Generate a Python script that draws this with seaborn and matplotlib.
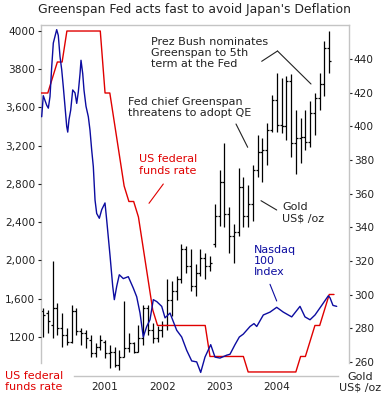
"""Greenspan Fed chart: gold (monthly OHLC), Nasdaq 100 and the fed funds rate."""
import matplotlib
matplotlib.use("Agg")
import matplotlib.pyplot as plt
import pandas as pd
import seaborn as sns

W, H = 387, 398

# gold, monthly bars from Dec 1999 to Dec 2004 (US$ /oz)
gold_start = 1999 + 11 / 12
gold_open = [290, 289, 282, 292, 280, 276, 272, 290, 278, 277,
             273, 265, 269, 272, 265, 266, 258, 263, 268, 271,
             266, 274, 292, 279, 274, 279, 282, 297, 302, 309,
             327, 317, 305, 313, 322, 317, 330, 347, 367, 348,
             335, 337, 364, 347, 354, 374, 385, 386, 398, 416,
             401, 400, 427, 390, 393, 394, 391, 408, 417, 425, 447]
gold_high = [292, 291, 320, 295, 289, 280, 294, 292, 280, 279,
             276, 271, 276, 273, 270, 269, 267, 296, 277, 272,
             282, 294, 294, 283, 281, 284, 309, 308, 311, 330,
             329, 327, 318, 327, 325, 323, 354, 374, 390, 352,
             342, 375, 370, 365, 377, 395, 393, 402, 419, 432,
             429, 430, 431, 410, 405, 410, 415, 420, 432, 451, 457]
gold_low = [275, 277, 274, 276, 269, 270, 271, 276, 270, 268,
            263, 263, 267, 262, 256, 257, 255, 263, 266, 265,
            266, 270, 276, 271, 272, 275, 279, 287, 297, 307,
            313, 302, 299, 311, 309, 314, 328, 341, 340, 325,
            319, 335, 340, 340, 344, 370, 367, 377, 397, 397,
            396, 392, 382, 372, 378, 386, 388, 395, 410, 418, 432]
gold_close = [288, 284, 292, 280, 276, 272, 290, 278, 277, 274,
              265, 269, 273, 265, 266, 258, 263, 268, 271, 266,
              274, 292, 279, 274, 279, 282, 297, 302, 309, 327,
              317, 305, 313, 322, 317, 319, 347, 367, 348, 335,
              337, 364, 347, 354, 374, 385, 386, 398, 416, 401,
              400, 427, 390, 393, 394, 391, 408, 417, 425, 447, 439]

# Nasdaq 100 index (time in years)
nasdaq_t = [1999.893, 1999.921, 1999.981, 2000.009, 2000.038, 2000.068, 2000.096, 2000.155, 2000.183, 2000.213,
            2000.243, 2000.271, 2000.300, 2000.330, 2000.348, 2000.370, 2000.400, 2000.435, 2000.475, 2000.505,
            2000.533, 2000.563, 2000.580, 2000.610, 2000.632, 2000.667, 2000.708, 2000.737, 2000.767, 2000.795,
            2000.825, 2000.854, 2000.900, 2000.942, 2000.999, 2001.029, 2001.087, 2001.134, 2001.162, 2001.204,
            2001.249, 2001.319, 2001.406, 2001.494, 2001.553, 2001.611, 2001.668, 2001.728, 2001.785, 2001.843,
            2001.903, 2001.990, 2002.048, 2002.135, 2002.193, 2002.252, 2002.339, 2002.427, 2002.514, 2002.601,
            2002.671, 2002.746, 2002.846, 2002.921, 2003.008, 2003.125, 2003.183, 2003.270, 2003.346, 2003.415,
            2003.533, 2003.602, 2003.650, 2003.765, 2003.882, 2003.999, 2004.114, 2004.261, 2004.406, 2004.493,
            2004.581, 2004.668, 2004.785, 2004.900, 2004.930, 2004.982, 2005.047]
nasdaq_v = [3500, 3720, 3620, 3590, 3710, 4020, 4270, 4410, 4350, 4130,
            3990, 3810, 3610, 3400, 3340, 3470, 3570, 3780, 3750, 3640,
            3760, 3950, 4090, 3950, 3780, 3610, 3500, 3360, 3150, 2980,
            2630, 2490, 2440, 2530, 2600, 2420, 2050, 1730, 1590, 1730,
            1850, 1810, 1830, 1710, 1620, 1450, 1200, 1310, 1380, 1590,
            1570, 1520, 1400, 1450, 1360, 1270, 1200, 1060, 950, 940,
            830, 990, 1120, 990, 980, 1010, 1020, 1120, 1200, 1230,
            1310, 1340, 1310, 1430, 1460, 1510, 1460, 1410, 1520, 1410,
            1380, 1430, 1530, 1630, 1610, 1530, 1520]

# US federal funds rate (%), month starts from Nov 1999 to Jan 2005
fed_start = 1999 + 10 / 12
fed_rate = [5.5, 5.5,
            5.5, 5.75, 6.0, 6.0, 6.5, 6.5, 6.5, 6.5, 6.5, 6.5, 6.5, 6.5,
            5.5, 5.5, 5.0, 4.5, 4.0, 3.75, 3.75, 3.5, 3.0, 2.5, 2.0, 1.75,
            1.75, 1.75, 1.75, 1.75, 1.75, 1.75, 1.75, 1.75, 1.75, 1.75, 1.25, 1.25,
            1.25, 1.25, 1.25, 1.25, 1.25, 1.25, 1.0, 1.0, 1.0, 1.0, 1.0, 1.0,
            1.0, 1.0, 1.0, 1.0, 1.0, 1.25, 1.25, 1.5, 1.75, 1.75, 2.0, 2.25,
            2.25]

year_ticks = [2001, 2002, 2003, 2004]
year_labels = ["2001", "2002", "2003", "2004"]
nq_ticks = [1200, 1600, 2000, 2400, 2800, 3200, 3600, 4000, 4400]
nq_labels = ["1200", "1,600", "2,000", "2,400", "2,800", "3,200", "3,600", "3800", "4000"]
gold_ticks = [260, 280, 300, 320, 340, 360, 380, 400, 420, 440]

RED = "#e00000"
BLUE = "#0c0ca0"
INK = "#222222"
FRAME = "#c4c4c4"

sns.set_style("white")
plt.rcParams["font.family"] = ["DejaVu Sans"]


def fx(x):
    return x / W


def fy(y):
    return 1 - y / H


def pointer(x0, y0, x1, y1, color=INK):
    fig.add_artist(plt.Line2D([fx(x0), fx(x1)], [fy(y0), fy(y1)],
                              transform=fig.transFigure, color=color, lw=0.8))


fig = plt.figure(figsize=(W / 100, H / 100), dpi=100)
ax_gold = fig.add_axes([fx(41), fy(376), 308 / W, 351 / H])
ax_fed = ax_gold.twinx()
ax_nq = ax_gold.twinx()

# gold OHLC bars
n = len(gold_open)
gold = pd.DataFrame({
    "t": [gold_start + i / 12 for i in range(n)],
    "open": gold_open, "high": gold_high, "low": gold_low, "close": gold_close,
})
tick = 0.035
ax_gold.vlines(gold["t"], gold["low"], gold["high"], color="black", lw=0.9)
ax_gold.hlines(gold["open"], gold["t"] - tick, gold["t"], color="black", lw=0.9)
ax_gold.hlines(gold["close"], gold["t"], gold["t"] + tick, color="black", lw=0.9)

fed = pd.DataFrame({"t": [fed_start + i / 12 for i in range(len(fed_rate))], "rate": fed_rate})
sns.lineplot(data=fed, x="t", y="rate", ax=ax_fed, color=RED, lw=1.0)

nq = pd.DataFrame({"t": nasdaq_t, "v": nasdaq_v})
sns.lineplot(data=nq, x="t", y="v", ax=ax_nq, color=BLUE, lw=1.0)

x_left, x_right = 1999.881, 2005.262
for a in (ax_gold, ax_fed, ax_nq):
    a.set_xlim(x_left, x_right)
    a.set_xlabel("")
    a.set_ylabel("")
    for s in a.spines.values():
        s.set_visible(False)

ax_gold.set_ylim(251.5, 460.4)
ax_fed.set_ylim(0.935, 6.597)
ax_nq.set_ylim(792.7, 4458.5)

# frame: top, left and right stop short of the bottom; the time axis is shorter
for side in ("top", "left", "right", "bottom"):
    sp = ax_gold.spines[side]
    sp.set_visible(True)
    sp.set_color(FRAME)
    sp.set_linewidth(1.0)
ax_gold.spines["left"].set_bounds(259.2, 460.4)
ax_gold.spines["right"].set_bounds(259.2, 460.4)
ax_gold.spines["bottom"].set_bounds(2000.458, 2005.07)

ax_fed.set_yticks([])
ax_fed.tick_params(axis="both", length=0, labelleft=False, labelright=False)

ax_gold.set_xticks(year_ticks)
ax_gold.set_xticklabels(year_labels)
ax_gold.tick_params(axis="x", length=0, pad=4, labelsize=7.6, labelcolor=INK)
ax_gold.yaxis.tick_right()
ax_gold.set_yticks(gold_ticks)
ax_gold.tick_params(axis="y", right=True, left=False, labelright=True, labelleft=False,
                    direction="out", length=2.5, width=0.8, pad=1, labelsize=7.6,
                    color=INK, labelcolor=INK)

ax_nq.yaxis.tick_left()
ax_nq.set_yticks(nq_ticks)
ax_nq.set_yticklabels(nq_labels)
ax_nq.tick_params(axis="y", left=True, right=False, labelleft=True, labelright=False,
                  direction="out", length=2.5, width=0.8, pad=1.5, labelsize=7.6,
                  color=INK, labelcolor=INK)

fig.text(fx(194), fy(10), "Greenspan Fed acts fast to avoid Japan's Deflation",
         ha="center", va="center", fontsize=8.9, color=INK)

txt = dict(fontsize=8, va="center", linespacing=1.15)
fig.text(fx(151), fy(53.2), "Prez Bush nominates\nGreenspan to 5th\nterm at the Fed", color=INK, **txt)
fig.text(fx(128.3), fy(107.7), "Fed chief Greenspan\nthreatens to adopt QE", color=INK, **txt)
fig.text(fx(139), fy(165), "US federal\nfunds rate", color=RED, **txt)
fig.text(fx(282.3), fy(213), "Gold\nUS$ /oz", color=INK, **txt)
fig.text(fx(254.3), fy(261.2), "Nasdaq\n100\nIndex", color=BLUE, **txt)
fig.text(fx(5), fy(381.5), "US federal\nfunds rate", color=RED, **txt)
fig.text(fx(360), fy(382.3), "Gold\nUS$ /oz", color=INK, ha="center", multialignment="center",
         fontsize=8, va="center", linespacing=1.15)

pointer(261.7, 61.3, 277.5, 51)
pointer(277.5, 51, 311, 84)
pointer(236, 124, 247.7, 147.3)
pointer(163.3, 184, 149, 203.3, RED)
pointer(261, 200.7, 276.7, 210)
pointer(270, 284.3, 276.7, 301, BLUE)

fig.savefig("out.png", dpi=100)
